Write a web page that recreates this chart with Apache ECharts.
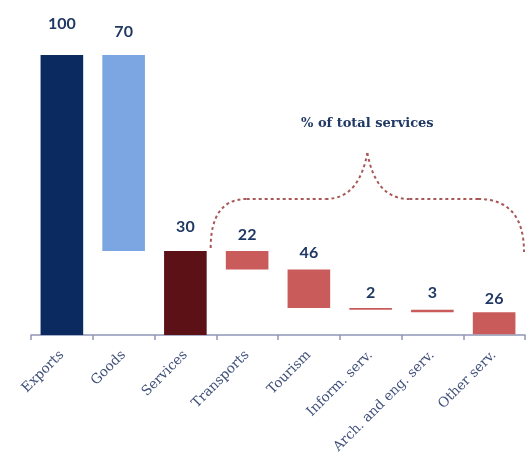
<!DOCTYPE html>
<html>
<head>
<meta charset="utf-8">
<script src="https://cdn.jsdelivr.net/npm/echarts@6/dist/echarts.min.js"></script>
<style>
  html, body { margin: 0; padding: 0; background: #ffffff; }
  #chart { width: 526px; height: 458px; }
</style>
</head>
<body>
<div id="chart"></div>
<script>
// Export breakdown: exports = goods + services, services split by sector (% of services)
const categories = ['Exports', 'Goods', 'Services', 'Transports', 'Tourism',
  'Inform. serv.', 'Arch. and eng. serv.', 'Other serv.'];
const exportsTotal = 100;
const goodsValue = 70;
const servicesValue = 30;
const serviceShares = [22, 46, 2, 3, 26]; // % of total services

// label gap above each bar (px)
const labelGap = [23, 15, 16, 8, 9, 7, 9, 5];
const barColors = ['#0b2a5f', '#7ba6e1', '#5b1115', '#c95b5b', '#c95b5b', '#c95b5b', '#c95b5b', '#c95b5b'];

// Waterfall geometry from the values
const labelValues = [exportsTotal, goodsValue, servicesValue].concat(serviceShares);
const heights = [exportsTotal, goodsValue, servicesValue];
const bases = [0, exportsTotal - goodsValue, 0];
let runningTop = servicesValue;
serviceShares.forEach(function (p) {
  const h = p * servicesValue / 100;
  runningTop -= h;
  heights.push(h);
  bases.push(runningTop);
});

const chart = echarts.init(document.getElementById('chart'), null, { renderer: 'canvas' });

const numberFont = { fontFamily: 'Lato', fontWeight: 'bold', fontSize: 16, color: '#1f3864' };

chart.setOption({
  animation: false,
  backgroundColor: '#ffffff',
  grid: { left: 31, right: 1, top: 55, bottom: 123 },
  xAxis: {
    type: 'category',
    data: categories,
    axisLine: { lineStyle: { color: '#8d97b5', width: 1.5 } },
    axisTick: { show: true, length: 5, lineStyle: { color: '#8d97b5', width: 1.5 } },
    axisLabel: {
      interval: 0,
      rotate: 45,
      margin: 18,
      fontFamily: 'DejaVu Serif',
      fontSize: 13.5,
      color: '#3f4f7a'
    }
  },
  yAxis: { type: 'value', min: 0, max: 100, show: false },
  series: [
    {
      name: 'base',
      type: 'bar',
      stack: 'w',
      barWidth: '69%',
      itemStyle: { color: 'transparent' },
      silent: true,
      data: bases
    },
    {
      name: 'value',
      type: 'bar',
      stack: 'w',
      barWidth: '69%',
      data: heights.map(function (h, i) {
        return {
          value: h,
          itemStyle: { color: barColors[i] },
          label: {
            show: true,
            position: 'top',
            distance: labelGap[i],
            formatter: String(labelValues[i]),
            fontFamily: numberFont.fontFamily,
            fontWeight: numberFont.fontWeight,
            fontSize: numberFont.fontSize,
            color: numberFont.color
          }
        };
      })
    }
  ]
});

// Dashed brace spanning the services breakdown
function drawBrace() {
  const servicesIdx = 2;
  const lastIdx = categories.length - 1;
  const catW = chart.convertToPixel({ xAxisIndex: 0 }, categories[1]) -
    chart.convertToPixel({ xAxisIndex: 0 }, categories[0]);
  const barHalf = catW * 0.69 / 2;
  const x0 = chart.convertToPixel({ xAxisIndex: 0 }, categories[servicesIdx]) + barHalf + 4;
  const x1 = chart.convertToPixel({ xAxisIndex: 0 }, categories[lastIdx]) + catW / 2 - 1;
  const yTop = chart.convertToPixel({ yAxisIndex: 0 }, servicesValue);
  const y0 = yTop - 3;
  const yh = yTop - 52;
  const yp = yTop - 98;
  const xm = (x0 + x1) / 2;
  const braceStyle = { fill: null, stroke: '#a85858', lineWidth: 2, lineDash: [3, 3] };

  const pieces = [
    // left shoulder
    { type: 'bezierCurve', shape: { x1: x0, y1: y0, cpx1: x0, cpy1: yh, x2: x0 + 36, y2: yh } },
    { type: 'line', shape: { x1: x0 + 36, y1: yh, x2: xm - 42, y2: yh } },
    // central point
    { type: 'bezierCurve', shape: { x1: xm - 42, y1: yh, cpx1: xm - 16, cpy1: yh, cpx2: xm - 5, cpy2: yh - 20, x2: xm, y2: yp } },
    { type: 'bezierCurve', shape: { x1: xm, y1: yp, cpx1: xm + 5, cpy1: yh - 20, cpx2: xm + 16, cpy2: yh, x2: xm + 42, y2: yh } },
    { type: 'line', shape: { x1: xm + 42, y1: yh, x2: x1 - 46, y2: yh } },
    // right shoulder
    { type: 'bezierCurve', shape: { x1: x1 - 46, y1: yh, cpx1: x1, cpy1: yh, x2: x1, y2: y0 + 4 } }
  ].map(function (p) {
    p.style = braceStyle;
    p.silent = true;
    return p;
  });

  pieces.push({
    type: 'text',
    x: xm,
    y: yp - 29,
    style: {
      text: '% of total services',
      fontFamily: 'DejaVu Serif',
      fontWeight: 'bold',
      fontSize: 13,
      fill: '#1f3864',
      textAlign: 'center',
      textVerticalAlign: 'middle'
    },
    silent: true
  });

  chart.setOption({ graphic: pieces });
}
drawBrace();
</script>
</body>
</html>
